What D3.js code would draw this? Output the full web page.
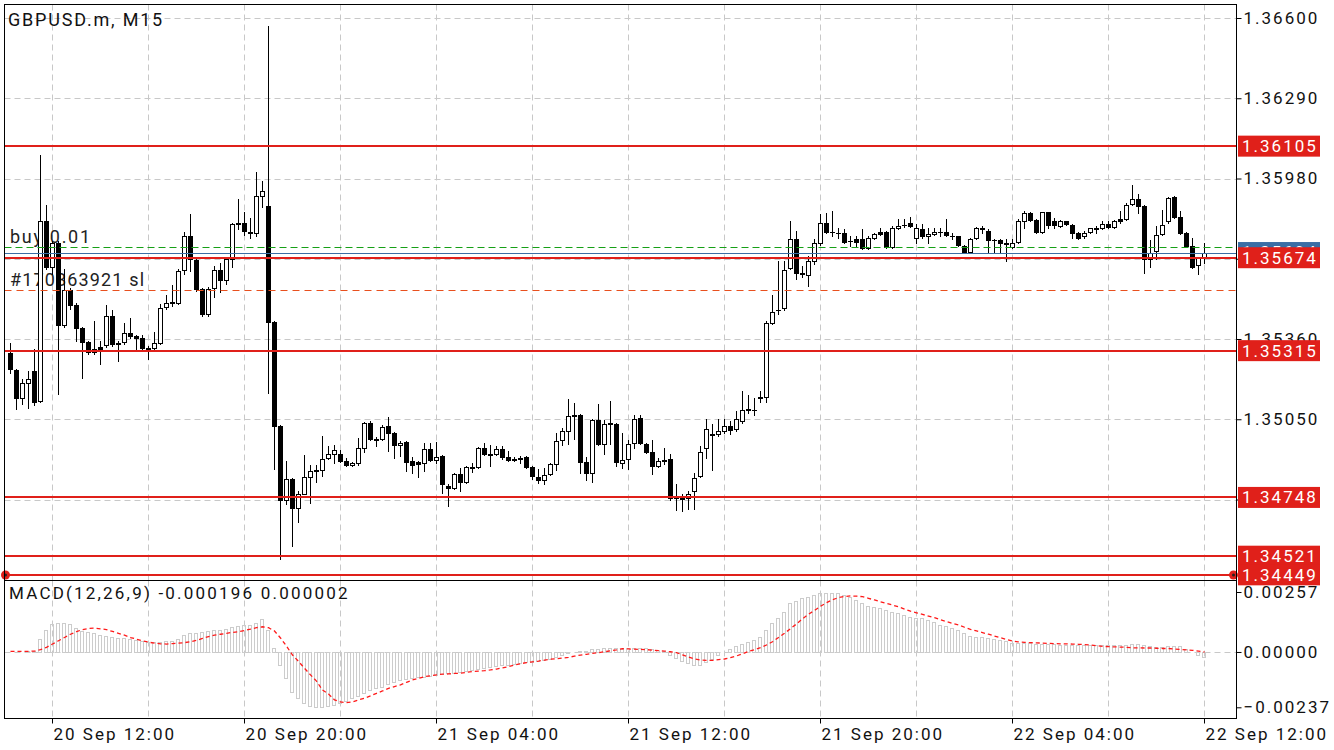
<!DOCTYPE html>
<html>
<head>
<meta charset="utf-8">
<script src="https://cdn.jsdelivr.net/npm/d3@7"></script>
<style>
  body { margin: 0; background: #fff; }
  text { font-family: Roboto, "DejaVu Sans", sans-serif; }
</style>
</head>
<body>
<div id="chart"></div>
<script>
// GBPUSD.m M15, 200 bars, prices in points (1 point = 0.00001)
var opens = [135306,135240,135132,135190,135236,135120,135814,135640,135732,135415,
  135550,135492,135403,135349,135322,135330,135337,135449,135345,135349,
  135384,135372,135364,135325,135325,135345,135484,135500,135500,135628,
  135756,135666,135554,135457,135558,135628,135589,135670,135810,135810,
  135775,135771,135914,135872,135426,135023,134740,134818,134709,134763,
  134826,134849,134853,134899,134915,134915,134887,134872,134880,134938,
  135035,134973,134973,135023,134996,134950,134961,134887,134884,134880,
  134934,134891,134907,134794,134783,134837,134806,134864,134864,134938,
  134915,134915,134934,134903,134895,134899,134903,134864,134826,134814,
  134837,134876,134969,135004,135066,135066,134884,134841,135046,134953,
  135035,135031,134880,134895,134957,135054,134953,134922,134868,134891,
  134895,134744,134744,134744,134771,134829,134938,134992,134992,135004,
  135023,135012,135042,135085,135085,135132,135136,135422,135473,135480,
  135636,135748,135616,135609,135662,135732,135810,135775,135771,135771,
  135740,135748,135748,135713,135752,135775,135775,135717,135790,135802,
  135810,135752,135783,135756,135767,135775,135775,135759,135756,135721,
  135697,135752,135787,135779,135744,135744,135729,135717,135736,135817,
  135845,135821,135775,135849,135814,135798,135814,135802,135771,135756,
  135775,135787,135787,135806,135794,135825,135825,135880,135899,135872,
  135670,135701,135767,135817,135907,135833,135771,135721,135647,135674];

var highs = [135345,135244,135205,135236,135322,136070,135876,135740,135740,135632,
  135558,135500,135407,135352,135430,135352,135492,135473,135352,135422,
  135442,135376,135376,135333,135387,135496,135531,135570,135632,135775,
  135841,135670,135558,135562,135643,135655,135674,135810,135899,135849,
  135829,136007,135969,136569,135430,135027,134887,134822,134771,134911,
  134872,134872,134984,134946,134950,134930,134899,134884,134977,135039,
  135042,134981,135027,135058,135000,134965,134965,134903,134887,134957,
  134957,134961,134911,134798,134841,134861,134868,134880,134942,134957,
  134950,134946,134946,134926,134903,134907,134907,134868,134857,134861,
  134880,134996,135015,135128,135112,135069,134903,135050,135108,135046,
  135120,135035,134996,134969,135066,135066,134957,134969,134899,134938,
  134915,134798,134760,134771,134841,134946,135050,135031,135050,135050,
  135042,135081,135159,135143,135132,135159,135430,135531,135662,135662,
  135814,135779,135643,135682,135748,135841,135845,135856,135790,135783,
  135756,135759,135783,135756,135771,135790,135779,135798,135825,135825,
  135833,135806,135806,135790,135790,135790,135825,135771,135759,135725,
  135752,135794,135798,135783,135748,135748,135748,135748,135825,135856,
  135849,135825,135852,135852,135829,135821,135817,135806,135775,135779,
  135790,135798,135814,135814,135821,135856,135887,135953,135922,135876,
  135744,135798,135860,135907,135914,135856,135775,135752,135678,135732];

var lows = [135229,135089,135108,135093,135105,135116,135632,135612,135147,135407,
  135477,135352,135209,135302,135302,135263,135330,135333,135275,135341,
  135364,135314,135318,135283,135322,135341,135477,135488,135496,135612,
  135624,135546,135449,135449,135523,135542,135573,135640,135783,135763,
  135752,135759,135868,135151,134857,134512,134721,134562,134655,134760,
  134725,134806,134829,134895,134880,134884,134868,134868,134872,134922,
  134969,134946,134969,134926,134899,134907,134849,134841,134826,134849,
  134887,134880,134767,134713,134779,134771,134802,134845,134861,134911,
  134868,134911,134895,134887,134887,134880,134861,134818,134802,134798,
  134833,134853,134950,134953,134973,134841,134814,134806,134950,134915,
  134953,134868,134861,134857,134938,134953,134919,134837,134864,134876,
  134740,134698,134694,134705,134705,134826,134899,134853,134984,134996,
  134992,135004,135035,135073,135066,135116,135116,135418,135457,135473,
  135632,135593,135601,135566,135651,135725,135771,135756,135752,135732,
  135721,135717,135709,135709,135748,135763,135713,135713,135783,135794,
  135794,135729,135752,135732,135763,135759,135759,135748,135721,135694,
  135694,135748,135771,135694,135694,135694,135662,135713,135732,135790,
  135817,135771,135771,135787,135787,135794,135802,135752,135748,135752,
  135771,135771,135783,135790,135790,135810,135821,135876,135845,135616,
  135640,135670,135763,135810,135829,135767,135717,135636,135612,135655];

var closes = [135244,135132,135190,135205,135116,135814,135640,135732,135415,135550,
  135492,135403,135349,135310,135310,135322,135449,135341,135341,135384,
  135372,135364,135325,135322,135345,135480,135500,135504,135624,135756,
  135670,135554,135457,135554,135628,135589,135670,135806,135806,135779,
  135771,135911,135930,135426,135023,134740,134818,134709,134763,134826,
  134849,134853,134895,134915,134930,134887,134872,134880,134938,135035,
  134973,134970,135019,134996,134950,134957,134884,134872,134876,134934,
  134891,134903,134798,134783,134837,134806,134864,134862,134938,134915,
  134913,134934,134903,134891,134893,134897,134864,134829,134814,134833,
  134876,134965,135004,135062,135064,134884,134841,135046,134953,135031,
  135033,134884,134891,134953,135050,134957,134922,134868,134887,134889,
  134744,134746,134742,134760,134822,134922,135012,134990,135004,135023,
  135008,135050,135085,135089,135087,135136,135422,135465,135471,135628,
  135748,135616,135612,135662,135732,135810,135775,135773,135769,135736,
  135738,135736,135713,135752,135767,135767,135717,135790,135798,135800,
  135798,135787,135756,135767,135775,135773,135763,135757,135725,135697,
  135748,135790,135785,135744,135742,135729,135727,135732,135814,135845,
  135821,135775,135849,135802,135802,135814,135806,135771,135752,135771,
  135787,135785,135806,135794,135814,135814,135876,135899,135872,135670,
  135694,135763,135802,135903,135833,135771,135721,135640,135674,135694];

// MACD(12,26,9): main line (histogram) and signal, in points (0.00001)
var macdMain = [2,1,2,3,6,56,94,118,124,125,
  118,104,92,86,80,74,70,66,62,58,
  54,50,47,44,43,44,46,48,56,72,
  80,82,84,88,94,96,98,106,112,114,
  116,126,141,96,18,-56,-111,-170,-197,-219,
  -231,-234,-234,-231,-226,-219,-208,-197,-188,-176,
  -163,-156,-148,-138,-127,-120,-116,-111,-108,-106,
  -102,-98,-94,-91,-88,-84,-80,-77,-72,-68,
  -64,-60,-57,-54,-51,-47,-44,-42,-40,-36,
  -30,-22,-14,-6,-2,4,6,12,14,16,
  18,16,14,15,18,18,16,12,10,6,
  -12,-26,-38,-48,-54,-54,-44,-30,-14,2,
  14,24,34,42,52,66,94,125,145,173,
  209,220,231,237,244,251,254,254,251,244,
  237,223,210,197,194,187,180,173,166,158,
  151,147,144,137,128,116,110,101,94,80,
  70,66,64,60,56,51,46,40,38,38,
  37,36,36,34,33,32,31,30,30,30,
  31,31,30,30,30,31,32,34,34,28,
  24,22,22,26,27,24,14,-2,-12,-20];

var macdSignal = [3,3,3,3,4,10,20,34,48,62,
  76,87,96,101,102,99,96,88,80,72,
  62,55,48,42,38,35,34,36,38,40,
  44,50,58,66,72,76,80,84,87,92,
  98,104,108,104,90,60,25,-13,-40,-70,
  -98,-125,-163,-180,-205,-214,-217,-214,-205,-198,
  -188,-177,-167,-156,-148,-141,-130,-120,-113,-106,
  -102,-98,-95,-94,-92,-91,-87,-84,-82,-80,
  -77,-73,-68,-63,-56,-50,-46,-42,-39,-35,
  -31,-29,-26,-23,-18,-13,-10,-6,-3,1,
  5,9,14,13,12,11,10,8,6,4,
  1,-3,-12,-22,-30,-34,-36,-36,-33,-30,
  -24,-17,-8,2,10,19,30,44,62,80,
  100,120,142,162,178,196,211,224,233,238,
  240,239,237,230,223,215,208,201,194,184,
  175,168,161,154,147,138,130,123,116,106,
  97,90,83,76,68,61,54,47,43,41,
  40,39,38,37,36,35,35,34,33,32,
  30,27,24,23,22,21,20,18,18,17,
  17,16,15,15,13,11,9,7,4,0];

var timeLabels = ["20 Sep 12:00", "20 Sep 20:00", "21 Sep 04:00", "21 Sep 12:00",
                  "21 Sep 20:00", "22 Sep 04:00", "22 Sep 12:00"];
var timeLabelBars = [7, 39, 71, 103, 135, 167, 199];
var priceTicks = [1.36600, 1.36290, 1.35980, 1.35670, 1.35360, 1.35050, 1.34740];
var hiddenTicks = [1.35670, 1.34740];   // covered by the level tags
var macdTicks = [0.00257, 0.00000, -0.00237];
var levelLines = [1.36105, 1.35674, 1.35315, 1.34748, 1.34521, 1.34449];
var selectedLevel = 1.34449;
var buyPrice = 1.35715, slPrice = 1.35550;
var bidPrice = closes[closes.length - 1] / 1e5;

var W = 1334, H = 750;
var pLeft = 4.5, pRight = 1236.5, pTop = 4.5, pSplit = 580.5, pBottom = 718.5;
var RED = "#e0201a", BLUE = "#3a6ea5", GRID = "#c8c8c8";

var svg = d3.select("#chart").append("svg")
  .attr("width", W).attr("height", H)
  .style("display", "block");
svg.append("rect").attr("width", W).attr("height", H).attr("fill", "#fff");

var x = d3.scaleLinear().domain([0, 199]).range([10, 1204]);
var y = d3.scaleLinear().domain([1.34740, 1.36600]).range([499.5, 18]);
var ym = d3.scaleLinear().domain([-0.00237, 0.00257]).range([707.3, 592]);

var defs = svg.append("defs");
defs.append("clipPath").attr("id", "clipMain").append("rect")
  .attr("x", pLeft).attr("y", pTop).attr("width", pRight - pLeft).attr("height", pSplit - pTop);
defs.append("clipPath").attr("id", "clipMacd").append("rect")
  .attr("x", pLeft).attr("y", pSplit).attr("width", pRight - pLeft).attr("height", pBottom - pSplit);

var main = svg.append("g").attr("clip-path", "url(#clipMain)");
var macdG = svg.append("g").attr("clip-path", "url(#clipMacd)");

// vertical grid every 4 hours (16 bars)
var gridBars = d3.range(7, 200, 16);
[[main, pTop, pSplit], [macdG, pSplit, pBottom]].forEach(function(p) {
  p[0].selectAll(".vgrid").data(gridBars).enter().append("line")
    .attr("x1", function(d) { return Math.round(x(d)) + 0.5; })
    .attr("x2", function(d) { return Math.round(x(d)) + 0.5; })
    .attr("y1", p[1]).attr("y2", p[2])
    .attr("stroke", GRID).attr("stroke-dasharray", "6,4");
});

main.selectAll(".hgrid").data(priceTicks).enter().append("line")
  .attr("x1", pLeft).attr("x2", pRight)
  .attr("y1", function(d) { return Math.round(y(d)) + 0.5; })
  .attr("y2", function(d) { return Math.round(y(d)) + 0.5; })
  .attr("stroke", GRID).attr("stroke-dasharray", "6,4");

macdG.append("line")
  .attr("x1", pLeft).attr("x2", pRight)
  .attr("y1", Math.round(ym(0)) + 0.5).attr("y2", Math.round(ym(0)) + 0.5)
  .attr("stroke", GRID).attr("stroke-dasharray", "6,4");

// order labels (under the candles)
main.append("text").attr("x", 10).attr("y", 243)
  .attr("font-size", 18).attr("letter-spacing", 1.7).attr("fill", "#222")
  .text("buy 0.01");
main.append("text").attr("x", 10).attr("y", 286)
  .attr("font-size", 18).attr("letter-spacing", 1.15).attr("fill", "#222")
  .text("#170863921 sl");

// candles
var bars = opens.map(function(o, i) {
  return { i: i, o: o / 1e5, h: highs[i] / 1e5, l: lows[i] / 1e5, c: closes[i] / 1e5 };
});
var cg = main.append("g");
cg.selectAll(".wick").data(bars).enter().append("line")
  .attr("x1", function(d) { return Math.round(x(d.i)) + 0.5; })
  .attr("x2", function(d) { return Math.round(x(d.i)) + 0.5; })
  .attr("y1", function(d) { return Math.round(y(d.h)); })
  .attr("y2", function(d) { return Math.round(y(d.l)) + 1; })
  .attr("stroke", "#000");

cg.selectAll(".body").data(bars).enter().append("g").each(function(d) {
  var cx = Math.round(x(d.i));
  var yo = Math.round(y(d.o)), yc = Math.round(y(d.c));
  var g = d3.select(this);
  if (Math.abs(yo - yc) < 1) {
    g.append("line").attr("x1", cx - 2).attr("x2", cx + 3)
      .attr("y1", yc + 0.5).attr("y2", yc + 0.5).attr("stroke", "#000");
  } else {
    g.append("rect")
      .attr("x", cx - 1.5).attr("width", 4)
      .attr("y", Math.min(yo, yc) + 0.5).attr("height", Math.abs(yo - yc))
      .attr("fill", d.c >= d.o ? "#fff" : "#000").attr("stroke", "#000");
  }
});

// horizontal lines over candles
function hline(g, p, color, width, dash) {
  var yy = Math.round(y(p)) + (width % 2 ? 0.5 : 0);
  var l = g.append("line").attr("x1", pLeft).attr("x2", pRight)
    .attr("y1", yy).attr("y2", yy).attr("stroke", color).attr("stroke-width", width);
  if (dash) l.attr("stroke-dasharray", dash);
}
hline(main, buyPrice, "#16a016", 1, "7,4");
hline(main, slPrice, "#e8501e", 1, "7,5");
hline(main, bidPrice, BLUE, 1);
levelLines.forEach(function(p) { hline(main, p, RED, 2); });

[pLeft + 1, pRight - 3].forEach(function(cx) {
  svg.append("circle").attr("cx", cx).attr("cy", Math.round(y(selectedLevel))).attr("r", 4.5).attr("fill", RED);
  svg.append("circle").attr("cx", cx).attr("cy", Math.round(y(selectedLevel))).attr("r", 1.5).attr("fill", "#222");
});

// MACD histogram and signal
macdG.selectAll(".hist").data(macdMain).enter().append("rect")
  .attr("x", function(d, i) { return Math.round(x(i)) - 1.5; })
  .attr("width", 3)
  .attr("y", function(d) { return Math.round(ym(Math.max(0, d / 1e5))) + 0.5; })
  .attr("height", function(d) { return Math.max(0, Math.abs(Math.round(ym(d / 1e5)) - Math.round(ym(0)))); })
  .attr("fill", "none").attr("stroke", "#cccccc");

macdG.append("path").datum(macdSignal)
  .attr("d", d3.line()
    .x(function(d, i) { return x(i) + 0.5; })
    .y(function(d) { return ym(d / 1e5); }))
  .attr("fill", "none").attr("stroke", "#ff1a1a").attr("stroke-width", 1.3)
  .attr("stroke-dasharray", "4,3");

// frame
svg.append("rect").attr("x", pLeft).attr("y", pTop)
  .attr("width", pRight - pLeft).attr("height", pBottom - pTop)
  .attr("fill", "none").attr("stroke", "#000");
svg.append("line").attr("x1", pLeft).attr("x2", pRight)
  .attr("y1", pSplit).attr("y2", pSplit).attr("stroke", "#000");

// titles
svg.append("text").attr("x", 8).attr("y", 26)
  .attr("font-size", 18).attr("letter-spacing", 1.8).attr("fill", "#111")
  .text("GBPUSD.m, M15");
svg.append("text").attr("x", 9).attr("y", 599)
  .attr("font-size", 17).attr("letter-spacing", 2.2).attr("fill", "#111")
  .text("MACD(12,26,9) -0.000196 0.000002");

// right price axis
var yAxis = svg.append("g").attr("transform", "translate(" + pRight + ",0)")
  .call(d3.axisRight(y).tickValues(priceTicks)
    .tickFormat(function(d) { return hiddenTicks.indexOf(d) >= 0 ? "" : d3.format(".5f")(d); })
    .tickSize(5).tickPadding(2));
var mAxis = svg.append("g").attr("transform", "translate(" + pRight + ",0)")
  .call(d3.axisRight(ym).tickValues(macdTicks).tickFormat(d3.format(".5f")).tickSize(5).tickPadding(2));
[yAxis, mAxis].forEach(function(a) {
  a.select(".domain").remove();
  a.selectAll("line").attr("stroke", "#000");
  a.selectAll("text").attr("font-size", 17).attr("letter-spacing", 2)
    .attr("fill", "#111").attr("font-family", "Roboto, sans-serif");
});

// level labels
function tag(p, color) {
  var cy = y(p);
  svg.append("rect").attr("x", 1238).attr("y", cy - 10.5).attr("width", 82).attr("height", 21)
    .attr("fill", color);
  svg.append("text").attr("x", 1242).attr("y", cy).attr("dy", "0.35em")
    .attr("font-size", 17).attr("letter-spacing", 2).attr("fill", "#fff")
    .text(d3.format(".5f")(p));
}
tag(bidPrice, BLUE);
levelLines.forEach(function(p) { tag(p, RED); });

// bottom time axis
var xAxis = svg.append("g").attr("transform", "translate(0," + pBottom + ")")
  .call(d3.axisBottom(x).tickValues(timeLabelBars)
    .tickFormat(function(d, i) { return timeLabels[i]; }).tickSize(5).tickPadding(4));
xAxis.select(".domain").remove();
xAxis.selectAll(".tick").attr("transform", function(d) {
  return "translate(" + (Math.round(x(d)) + 0.5) + ",0)";
});
xAxis.selectAll("line").attr("stroke", "#000");
xAxis.selectAll("text").attr("text-anchor", "start").attr("x", 1)
  .attr("font-size", 17).attr("letter-spacing", 2).attr("fill", "#111")
  .attr("font-family", "Roboto, sans-serif");
</script>
</body>
</html>
